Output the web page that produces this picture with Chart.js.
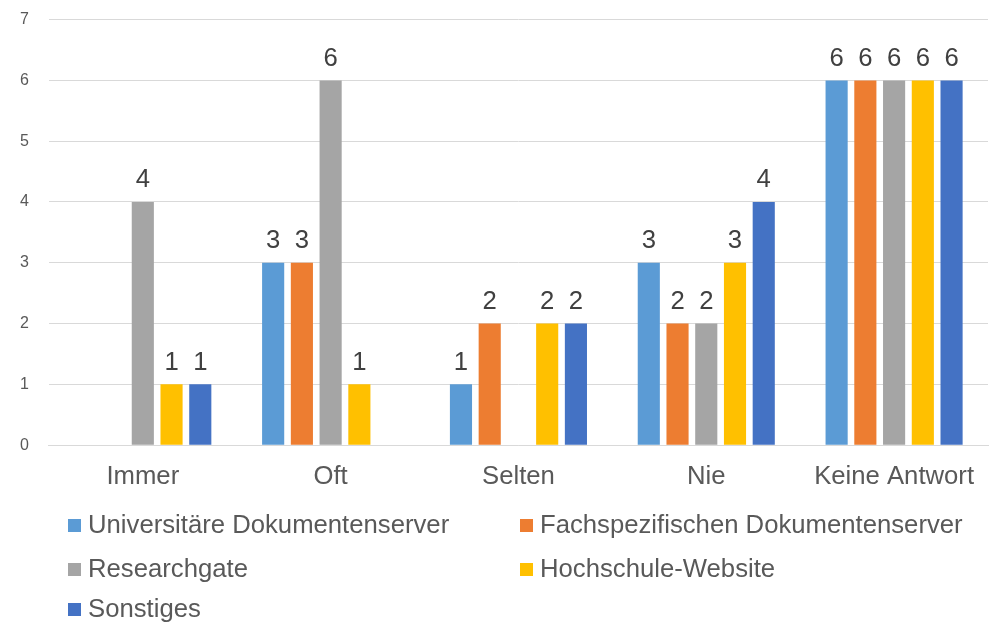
<!DOCTYPE html>
<html>
<head>
<meta charset="utf-8">
<script src="https://cdn.jsdelivr.net/npm/chart.js@4"></script>
<style>
  html, body { margin: 0; padding: 0; background: #fff; }
  #wrap { position: relative; width: 995px; height: 624px; overflow: hidden; }
  #chart { position: absolute; left: 0; top: -10px; }
</style>
</head>
<body>
<div id="wrap"><canvas id="chart" width="995" height="634"></canvas></div>
<script>
// Kategorien und Werte (leere Zellen = null)
const categories = ['Immer', 'Oft', 'Selten', 'Nie', 'Keine Antwort'];
const seriesNames = [
    'Universitäre Dokumentenserver',
    'Fachspezifischen Dokumentenserver',
    'Researchgate',
    'Hochschule-Website',
    'Sonstiges'
];
const uniServer = [null, 3, 1, 3, 6];
const fachServer = [null, 3, 2, 2, 6];
const researchgate = [4, 6, null, 2, 6];
const hochschule = [1, 1, 2, 3, 6];
const sonstiges = [1, null, 2, 4, 6];
const yTicks = [0, 1, 2, 3, 4, 5, 6, 7];

const colors = ['#5B9BD5', '#ED7D31', '#A5A5A5', '#FFC000', '#4472C4'];
const values = [uniServer, fachServer, researchgate, hochschule, sonstiges];
const fontFamily = '"Liberation Sans", Arial, sans-serif';
const bigFont = 25.7;

// Werte über den Balken
const valueLabels = {
    id: 'valueLabels',
    afterDatasetsDraw(chart) {
        const ctx = chart.ctx;
        ctx.save();
        ctx.font = bigFont + 'px ' + fontFamily;
        ctx.fillStyle = '#404040';
        ctx.textAlign = 'center';
        ctx.textBaseline = 'bottom';
        chart.data.datasets.forEach((ds, i) => {
            chart.getDatasetMeta(i).data.forEach((bar, j) => {
                const v = ds.data[j];
                if (v === null || v === undefined) return;
                ctx.fillText(String(v), bar.x, bar.y - 9);
            });
        });
        ctx.restore();
    }
};

// Legende in zwei Spalten unter dem Diagramm (Canvas ist um 10px nach oben versetzt)
const twoColLegend = {
    id: 'twoColLegend',
    afterDraw(chart) {
        const ctx = chart.ctx;
        ctx.save();
        ctx.font = bigFont + 'px ' + fontFamily;
        ctx.textBaseline = 'middle';
        const colX = [68, 520];
        const rowY = [535, 579, 619];
        chart.data.datasets.forEach((ds, i) => {
            const x = colX[i % 2];
            const y = rowY[Math.floor(i / 2)];
            ctx.fillStyle = ds.backgroundColor;
            ctx.fillRect(x, y - 6, 13, 13);
            ctx.fillStyle = '#595959';
            ctx.fillText(ds.label, x + 20, y + 1);
        });
        ctx.restore();
    }
};

new Chart(document.getElementById('chart'), {
    type: 'bar',
    data: {
        labels: categories,
        datasets: seriesNames.map((name, i) => ({
            label: name,
            data: values[i],
            backgroundColor: colors[i],
            borderWidth: 0,
            barPercentage: 0.77,
            categoryPercentage: 0.765
        }))
    },
    options: {
        responsive: false,
        animation: false,
        layout: { padding: { top: 4, right: 7, bottom: 124, left: 0 } },
        plugins: {
            legend: { display: false },
            tooltip: { enabled: false }
        },
        scales: {
            x: {
                grid: { display: false },
                border: { color: '#D9D9D9', width: 1 },
                ticks: {
                    color: '#595959',
                    font: { family: fontFamily, size: bigFont },
                    padding: 8
                }
            },
            y: {
                min: 0,
                max: 7,
                afterBuildTicks(axis) {
                    axis.ticks = yTicks.map(v => ({ value: v }));
                },
                grid: { color: '#D9D9D9', drawTicks: false },
                border: { display: false },
                ticks: {
                    color: '#595959',
                    font: { family: fontFamily, size: 16 },
                    padding: 20
                }
            }
        }
    },
    plugins: [valueLabels, twoColLegend]
});
</script>
</body>
</html>
